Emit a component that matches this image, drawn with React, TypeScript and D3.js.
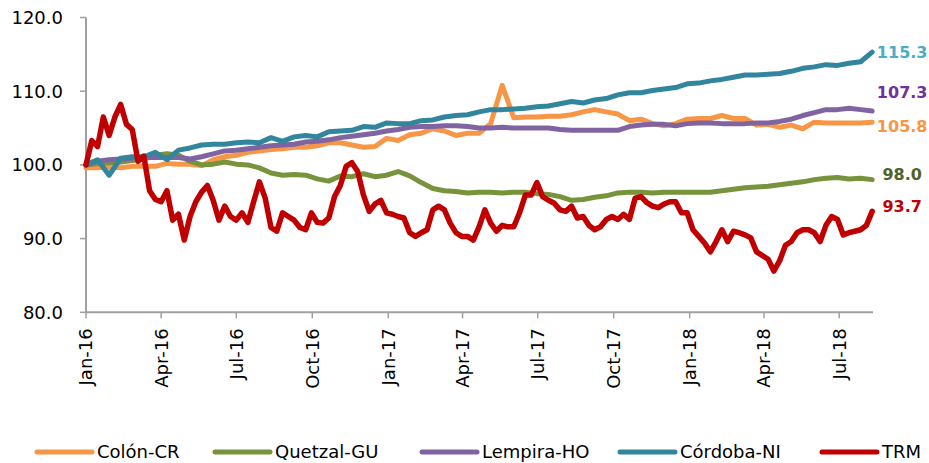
import React from "react";
import * as d3 from "d3";

// ── Data ──────────────────────────────────────────────────────────────────────

const START = new Date(2016, 0, 1);
const END = new Date(2018, 7, 11);

// weekly grid for TRM, two-week grid for the currencies
const WEEKS = d3.range(137).map((i) => d3.timeDay.offset(START, i * 7));
const FORTNIGHTS = d3.range(69).map((i) => d3.timeDay.offset(START, i * 14));

const COLON_CR = [
  99.6, 99.6, 99.7, 99.6, 99.8, 99.8, 99.8, 100.2, 100.1, 100.1,
  99.9, 100.7, 101.1, 101.3, 101.7, 101.9, 102.1, 102.2, 102.4, 102.4,
  102.6, 103.0, 103.0, 102.7, 102.4, 102.5, 103.6, 103.3, 104.1, 104.3,
  104.9, 104.6, 104.0, 104.3, 104.3, 105.6, 110.8, 106.4, 106.5, 106.5,
  106.6, 106.6, 106.8, 107.2, 107.5, 107.2, 106.9, 106.0, 106.2, 105.6,
  105.3, 105.6, 106.2, 106.3, 106.3, 106.7, 106.3, 106.3, 105.4, 105.5,
  105.1, 105.4, 104.9, 105.8, 105.7, 105.7, 105.7, 105.7, 105.8,
];

const QUETZAL_GU = [
  100.0, 100.2, 100.3, 100.4, 100.6, 100.8, 101.3, 101.5, 101.3, 100.5,
  100.0, 100.1, 100.4, 100.1, 100.0, 99.6, 98.9, 98.6, 98.7, 98.6,
  98.1, 97.8, 98.5, 98.4, 98.8, 98.4, 98.6, 99.1, 98.5, 97.6,
  96.8, 96.5, 96.4, 96.2, 96.3, 96.3, 96.2, 96.3, 96.3, 96.1,
  96.0, 95.7, 95.2, 95.3, 95.6, 95.8, 96.2, 96.3, 96.3, 96.2,
  96.3, 96.3, 96.3, 96.3, 96.3, 96.5, 96.7, 96.9, 97.0, 97.1,
  97.3, 97.5, 97.7, 98.0, 98.2, 98.3, 98.1, 98.2, 98.0,
];

const LEMPIRA_HO = [
  100.0, 100.5, 100.7, 100.8, 100.9, 101.0, 101.0, 101.0, 101.0, 100.8,
  101.1, 101.5, 101.9, 102.0, 102.2, 102.4, 102.6, 102.7, 102.8, 103.1,
  103.2, 103.4, 103.7, 103.9, 104.1, 104.3, 104.6, 104.8, 105.1, 105.2,
  105.2, 105.3, 105.3, 105.2, 105.0, 105.0, 105.1, 105.0, 105.0, 105.0,
  105.0, 104.8, 104.7, 104.7, 104.7, 104.7, 104.7, 105.2, 105.4, 105.5,
  105.5, 105.3, 105.6, 105.7, 105.7, 105.6, 105.6, 105.6, 105.7, 105.7,
  105.9, 106.2, 106.7, 107.1, 107.5, 107.5, 107.7, 107.5, 107.3,
];

const CORDOBA_NI = [
  100.0, 100.7, 98.6, 100.9, 101.1, 101.1, 101.7, 100.7, 102.0, 102.3,
  102.7, 102.8, 102.8, 103.0, 103.1, 103.0, 103.7, 103.2, 103.8, 104.0,
  103.8, 104.5, 104.6, 104.7, 105.2, 105.1, 105.7, 105.6, 105.6, 106.0,
  106.1, 106.5, 106.7, 106.8, 107.2, 107.5, 107.5, 107.6, 107.7, 107.9,
  108.0, 108.3, 108.6, 108.4, 108.8, 109.0, 109.5, 109.8, 109.8, 110.1,
  110.3, 110.5, 111.0, 111.1, 111.4, 111.6, 111.9, 112.2, 112.2, 112.3,
  112.4, 112.7, 113.1, 113.3, 113.6, 113.5, 113.8, 114.0, 115.3,
];

const TRM = [
  100.0, 103.3, 102.5, 106.5, 104.0, 106.5, 108.2, 105.5, 104.8, 100.5,
  101.2, 96.5, 95.3, 95.0, 96.5, 92.5, 93.3, 89.8, 93.0, 95.0,
  96.3, 97.2, 95.2, 92.5, 94.4, 93.0, 92.5, 93.5, 92.2, 95.0,
  97.7, 95.5, 91.5, 91.0, 93.5, 93.0, 92.5, 91.5, 91.2, 93.5,
  92.2, 92.1, 92.8, 95.7, 97.2, 99.8, 100.3, 99.1, 95.9, 93.7,
  94.7, 95.2, 93.5, 93.3, 93.0, 92.8, 90.8, 90.3, 90.8, 91.2,
  93.9, 94.4, 93.9, 92.1, 90.8, 90.3, 90.3, 89.8, 91.6, 93.9,
  92.1, 91.0, 91.8, 91.6, 91.6, 93.5, 95.9, 95.9, 97.6, 95.7,
  95.2, 94.8, 93.9, 93.7, 94.4, 92.8, 93.0, 91.8, 91.2, 91.6,
  92.6, 93.0, 92.6, 93.3, 92.6, 95.5, 95.7, 94.9, 94.4, 94.2,
  94.7, 95.0, 95.0, 93.5, 93.5, 91.2, 90.3, 89.4, 88.2, 89.6,
  91.2, 89.6, 91.0, 90.8, 90.5, 90.1, 88.2, 87.7, 87.2, 85.6,
  87.0, 89.1, 89.6, 90.8, 91.2, 91.2, 90.8, 89.6, 91.8, 93.0,
  92.6, 90.5, 90.8, 91.0, 91.2, 91.8, 93.7,
];

const Y_TICKS = [80, 90, 100, 110, 120];
const X_TICKS = d3.timeMonth.range(START, END, 3);

// ── Series config ─────────────────────────────────────────────────────────────

interface Series {
  name: string;
  dates: Date[];
  values: number[];
  color: string;
  labelColor: string;
  labelAt: number; // y value where the end label sits
  width: number;
}

const SERIES: Series[] = [
  { name: "Colón-CR", dates: FORTNIGHTS, values: COLON_CR, color: "#f79646", labelColor: "#f79646", labelAt: 105.3, width: 5 },
  { name: "Quetzal-GU", dates: FORTNIGHTS, values: QUETZAL_GU, color: "#77933c", labelColor: "#4f6228", labelAt: 98.8, width: 5 },
  { name: "Lempira-HO", dates: FORTNIGHTS, values: LEMPIRA_HO, color: "#8064a2", labelColor: "#7030a0", labelAt: 109.8, width: 5 },
  { name: "Córdoba-NI", dates: FORTNIGHTS, values: CORDOBA_NI, color: "#31859c", labelColor: "#4bacc6", labelAt: 115.3, width: 5 },
  { name: "TRM", dates: WEEKS, values: TRM, color: "#c00000", labelColor: "#c00000", labelAt: 94.4, width: 5.5 },
];

const LEGEND_X = [37, 215, 422, 620, 822];

const FONT = "'DejaVu Sans', sans-serif";
const AXIS = "#a0a0a0";

// ── Chart ─────────────────────────────────────────────────────────────────────

export default function App() {
  const width = 929;
  const height = 463;

  const x = d3.scaleTime().domain([START, END]).range([86, 873]);
  const y = d3.scaleLinear().domain([80, 120]).range([312.3, 17.5]);
  const fmtX = d3.timeFormat("%b-%y");

  return (
    <svg
      width={width}
      height={height}
      style={{ position: "absolute", left: 0, top: 0, background: "#fff" }}
      fontFamily={FONT}
    >
      {/* Y axis */}
      <line x1={86} x2={86} y1={y(120)} y2={y(80)} stroke={AXIS} strokeWidth={2} />
      {Y_TICKS.map((t) => (
        <g key={t}>
          <line x1={80} x2={86} y1={y(t)} y2={y(t)} stroke={AXIS} strokeWidth={1.5} />
          <text x={63} y={y(t)} dy="0.36em" textAnchor="end" fontSize={18} fill="#000">
            {d3.format(".1f")(t)}
          </text>
        </g>
      ))}

      {/* X axis */}
      <line x1={86} x2={873} y1={y(80)} y2={y(80)} stroke={AXIS} strokeWidth={2} />
      {X_TICKS.map((t) => (
        <g key={+t} transform={`translate(${x(t)},0)`}>
          <line y1={y(80)} y2={y(80) + 6} stroke={AXIS} strokeWidth={1.5} />
          <text
            transform={`translate(0,${y(80) + 16}) rotate(-90)`}
            dy="0.36em"
            textAnchor="end"
            fontSize={18}
            fill="#000"
          >
            {fmtX(t)}
          </text>
        </g>
      ))}

      {/* Lines */}
      {SERIES.map((s) => {
        const line = d3
          .line<number>()
          .x((_, i) => x(s.dates[i]))
          .y((d) => y(d));
        return (
          <path
            key={s.name}
            d={line(s.values) ?? ""}
            fill="none"
            stroke={s.color}
            strokeWidth={s.width}
            strokeLinejoin="round"
            strokeLinecap="round"
          />
        );
      })}

      {/* End labels */}
      {SERIES.map((s) => {
        const last = s.values[s.values.length - 1];
        const lx = x(s.dates[s.dates.length - 1]) + 30;
        return (
          <text
            key={s.name}
            x={lx}
            y={y(s.labelAt)}
            dy="0.36em"
            textAnchor="middle"
            fontSize={16}
            fontWeight="bold"
            fill={s.labelColor}
          >
            {d3.format(".1f")(last)}
          </text>
        );
      })}

      {/* Legend */}
      {SERIES.map((s, i) => (
        <g key={s.name} transform={`translate(${LEGEND_X[i]},452)`}>
          <line x1={0} x2={55} stroke={s.color} strokeWidth={5} strokeLinecap="round" />
          <text x={60} dy="0.36em" fontSize={18} fill="#000">
            {s.name}
          </text>
        </g>
      ))}
    </svg>
  );
}
